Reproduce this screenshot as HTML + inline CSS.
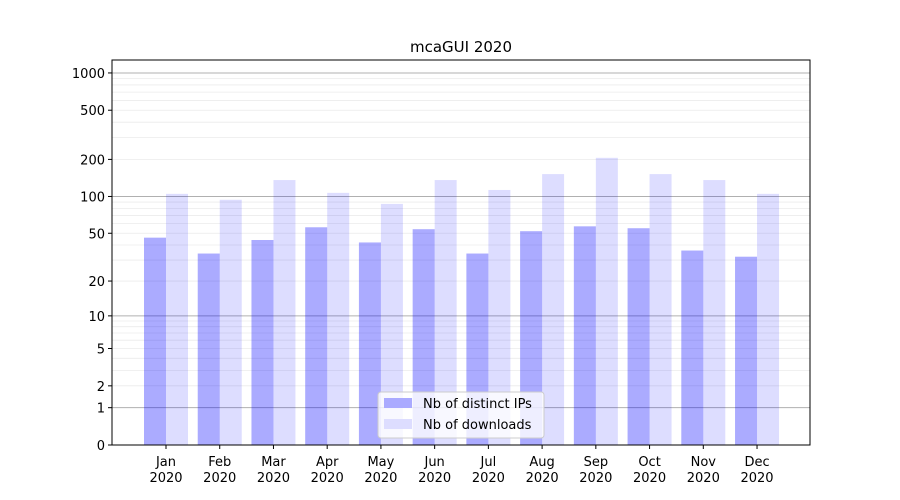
<!DOCTYPE html>
<html><head><meta charset="utf-8"><style>
body{margin:0;background:#fff}
svg{display:block;font-family:"DejaVu Sans","Liberation Sans",sans-serif}
</style></head><body>
<svg id="chart" width="900" height="500" viewBox="0 0 900 500">
<rect width="900" height="500" fill="#fff"/>
<text x="461" y="52" text-anchor="middle" font-size="15">mcaGUI 2020</text>
<g id="grid"></g><g id="bars"></g><g id="axes"></g>
<g>
<rect x="378" y="392" width="166" height="46" rx="3" fill="#fff" fill-opacity="0.8" stroke="#ccc"/>
<g><rect x="384" y="398" width="28" height="10" fill="#aaaaff"/><text x="423" y="408" font-size="13">Nb of distinct IPs</text></g>
<g><rect x="384" y="419" width="28" height="10" fill="#ddddff"/><text x="423" y="429" font-size="13">Nb of downloads</text></g>
</g>
</svg>
<script>
const months=["Jan","Feb","Mar","Apr","May","Jun","Jul","Aug","Sep","Oct","Nov","Dec"];
const ips=[46,34,44,56,42,54,34,52,57,55,36,32];
const downloads=[105,94,136,107,87,136,113,152,206,152,136,105];
const yTicks=[0,1,2,5,10,20,50,100,200,500,1000];
const NS="http://www.w3.org/2000/svg";
const X0=112,X1=810,Y0=445,YT=60;
function y(v){return Y0-124*Math.log10(v+1);}
function xc(i){return 166+i*53.73;}
function mk(t,a,p){const e=document.createElementNS(NS,t);for(const k in a)e.setAttribute(k,a[k]);p.appendChild(e);return e;}
const grid=document.getElementById('grid'),bars=document.getElementById('bars'),axes=document.getElementById('axes');
[1,10,100,1000].forEach(b=>{for(let m=1;m<=9;m++){const v=b*m;if(v>1272)continue;const l=mk('line',{x1:X0,x2:X1,y1:y(v),y2:y(v),stroke:m==1?'#b0b0b0':'#ebebeb','stroke-width':m==1?1:0.8},grid);

}});
months.forEach((m,i)=>{
const a=mk('rect',{x:xc(i)-22,y:y(ips[i]),width:22,height:Y0-y(ips[i]),fill:'#0000ff','fill-opacity':0.33},bars);


const b=mk('rect',{x:xc(i),y:y(downloads[i]),width:22,height:Y0-y(downloads[i]),fill:'#0000ff','fill-opacity':0.135},bars);


const t=mk('text',{x:xc(i),y:466,'text-anchor':'middle','font-size':13},axes);t.textContent=m;


const t2=mk('text',{x:xc(i),y:482,'text-anchor':'middle','font-size':13},axes);t2.textContent='2020';


mk('line',{x1:xc(i),x2:xc(i),y1:Y0,y2:Y0+4,stroke:'#000'},axes);
});
yTicks.forEach(v=>{mk('line',{x1:X0-4,x2:X0,y1:y(v),y2:y(v),stroke:'#000'},axes);
const t=mk('text',{x:X0-7,y:y(v)+5,'text-anchor':'end','font-size':13},axes);t.textContent=v;

});
const f=mk('rect',{x:X0,y:YT,width:X1-X0,height:Y0-YT,fill:'none',stroke:'#000','stroke-width':1},axes);


</script>
</body></html>
